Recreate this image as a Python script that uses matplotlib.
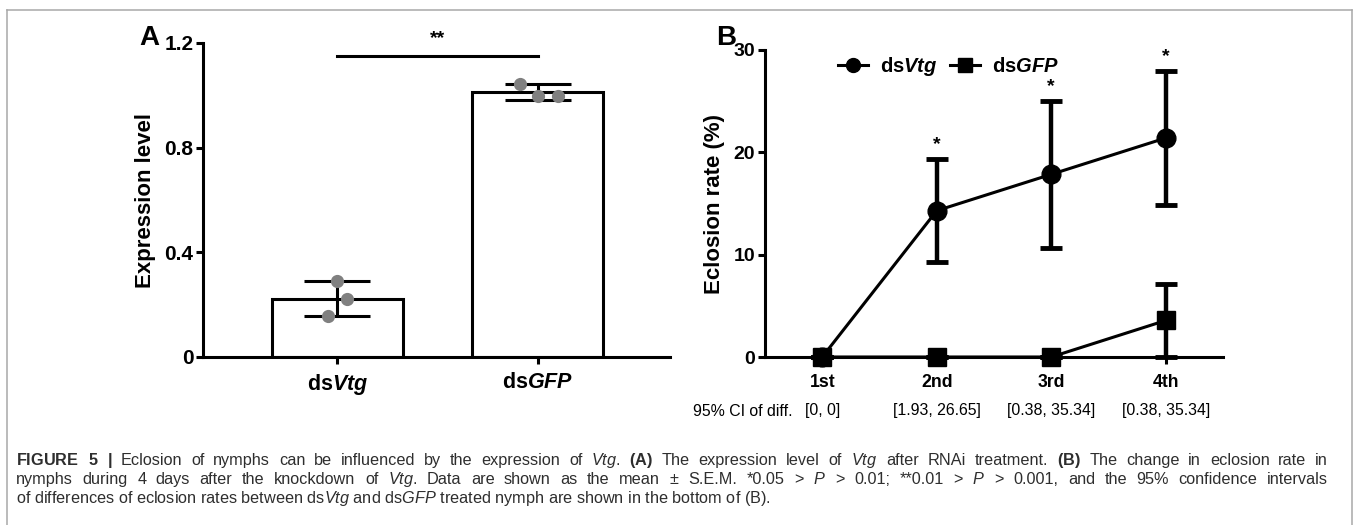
import matplotlib
matplotlib.use("Agg")
import matplotlib.pyplot as plt
from matplotlib.lines import Line2D

plt.rcParams['font.family'] = ['Liberation Sans', 'DejaVu Sans']
plt.rcParams['mathtext.fontset'] = 'custom'
plt.rcParams['mathtext.rm'] = 'Liberation Sans'
plt.rcParams['mathtext.it'] = 'Liberation Sans:italic'
plt.rcParams['mathtext.bf'] = 'Liberation Sans:bold'
plt.rcParams['mathtext.bfit'] = 'Liberation Sans:bold:italic'

# Panel A data
groups = [r"ds$\mathbfit{Vtg}$", r"ds$\mathbfit{GFP}$"]
expr_mean = [0.222, 1.012]
expr_err = [0.067, 0.030]
expr_points = [[0.290, 0.222, 0.157], [1.045, 0.996, 0.996]]
jitter = [[0.0, 0.05, -0.045], [-0.09, 0.0, 0.1]]
sig_level = 1.15

# Panel B data
days = ["1st", "2nd", "3rd", "4th"]
vtg_rate = [0.0, 14.3, 17.85, 21.4]
vtg_err = [0.0, 5.0, 7.15, 6.5]
gfp_rate = [0.0, 0.0, 0.0, 3.57]
gfp_err = [0.0, 0.0, 0.0, 3.57]
ci_labels = ["[0, 0]", "[1.93, 26.65]", "[0.38, 35.34]", "[0.38, 35.34]"]
star_days = [1, 2, 3]

fig = plt.figure(figsize=(13.56, 5.25), dpi=100)
W, H = 1356.0, 525.0

def fx(px):
    return px / W

def fy(py):
    return 1 - py / H

# ---- panel A ----
axA = fig.add_axes([fx(203), fy(357), (670 - 203) / W, (357 - 43) / H])
xa = list(range(len(groups)))
axA.bar(xa, expr_mean, width=0.655, color='white', edgecolor='black', linewidth=2.2, zorder=2)
axA.errorbar(xa, expr_mean, yerr=expr_err, fmt='none', ecolor='black',
             elinewidth=2.2, capsize=23.5, capthick=2.2, zorder=3)
for i, pts in enumerate(expr_points):
    axA.plot([i + j for j in jitter[i]], pts, 'o', color='#808080',
             markersize=9.5, markeredgewidth=0, zorder=4)
axA.plot([xa[0], xa[1]], [sig_level, sig_level], color='black', lw=2.2, clip_on=False)
axA.text(0.5, sig_level + 0.035, '**', ha='center', va='bottom', fontsize=14, fontweight='bold')
axA.set_xlim(-0.67, 1.66)
axA.set_ylim(0, 1.2)
axA.set_yticks([0, 0.4, 0.8, 1.2])
axA.set_yticklabels(['0', '0.4', '0.8', '1.2'])
axA.set_xticks(xa)
axA.set_xticklabels(groups)
axA.set_ylabel('Expression level', fontsize=16, fontweight='bold', labelpad=6)

# ---- panel B ----
axB = fig.add_axes([fx(765), fy(357), (1223 - 765) / W, (357 - 50) / H])
xb = list(range(len(days)))
axB.errorbar(xb, vtg_rate, yerr=vtg_err, fmt='-o', color='black', lw=2.2,
             markersize=13.5, elinewidth=3.2, capsize=8, capthick=3.5,
             clip_on=False, zorder=3)
axB.errorbar(xb, gfp_rate, yerr=gfp_err, fmt='-s', color='black', lw=2.2,
             markersize=13.5, elinewidth=3.2, capsize=8, capthick=3.5,
             clip_on=False, zorder=4)
for d in star_days:
    axB.text(xb[d], vtg_rate[d] + vtg_err[d] + 0.6, '*', ha='center', va='bottom',
             fontsize=14, fontweight='bold')
axB.set_xlim(-0.5, 3.5)
axB.set_ylim(0, 30)
axB.set_yticks([0, 10, 20, 30])
axB.set_xticks(xb)
axB.set_xticklabels(days)
axB.set_ylabel('Eclosion rate (%)', fontsize=16, fontweight='bold', labelpad=6)
handles = [Line2D([], [], color='black', lw=2.2, marker='o', markersize=10),
           Line2D([], [], color='black', lw=2.2, marker='s', markersize=10)]
axB.legend(handles, [r"ds$\mathbfit{Vtg}$", r"ds$\mathbfit{GFP}$"], loc='center left',
           bbox_to_anchor=(0.12, 0.945), ncol=2, frameon=False, handlelength=1.5,
           handletextpad=0.6, columnspacing=0.6, prop={'size': 14.5, 'weight': 'bold'})
for i, lab in enumerate(ci_labels):
    axB.annotate(lab, xy=(xb[i], 0), xycoords=('data', 'axes fraction'),
                 xytext=(0, -54), textcoords='offset pixels', ha='center', va='center',
                 fontsize=11.4)
axB.annotate('95% CI of diff.', xy=(xb[0], 0), xycoords=('data', 'axes fraction'),
             xytext=(-30, -54), textcoords='offset pixels', ha='right', va='center',
             fontsize=11.4)

for ax, tsize, xsize, xpad in [(axA, 15, 15.5, 6), (axB, 14, 12.7, 7)]:
    for s in ['top', 'right']:
        ax.spines[s].set_visible(False)
    for s in ['left', 'bottom']:
        ax.spines[s].set_linewidth(2.2)
    ax.tick_params(axis='both', width=2.2, length=5, pad=2)
    ax.tick_params(axis='y', labelsize=tsize)
    ax.tick_params(axis='x', labelsize=xsize, pad=xpad)
    for t in ax.get_xticklabels() + ax.get_yticklabels():
        t.set_fontweight('bold')

fig.text(fx(139), fy(45), 'A', fontsize=20, fontweight='bold', va='baseline')
fig.text(fx(716), fy(45), 'B', fontsize=20, fontweight='bold', va='baseline')

# frame
gray = '#a8a8a8'
fig.add_artist(Line2D([fx(7), fx(1352)], [fy(9.5), fy(9.5)], color=gray, lw=1.1))
fig.add_artist(Line2D([fx(7), fx(7)], [fy(9.5), 0], color=gray, lw=1.1))
fig.add_artist(Line2D([fx(1352), fx(1352)], [fy(9.5), 0], color=gray, lw=1.1))

# caption, first two lines justified
caption = [
    r"$\mathbf{FIGURE}$ $\mathbf{5}$ $\mathbf{|}$ Eclosion of nymphs can be influenced by the expression of $\it{Vtg}$. "
    r"$\mathbf{(A)}$ The expression level of $\it{Vtg}$ after RNAi treatment. $\mathbf{(B)}$ The change in eclosion rate in",
    r"nymphs during 4 days after the knockdown of $\it{Vtg}$. Data are shown as the mean ± S.E.M. *0.05 > $\it{P}$ > 0.01; "
    r"**0.01 > $\it{P}$ > 0.001, and the 95% confidence intervals",
    r"of differences of eclosion rates between ds$\it{Vtg}$ and ds$\it{GFP}$ treated nymph are shown in the bottom of (B).",
]
renderer = fig.canvas.get_renderer()
left_px, right_px = 16, 1328
for i, line in enumerate(caption):
    y = fy(465 + 19 * i)
    if i == len(caption) - 1:
        fig.text(fx(left_px), y, line, fontsize=11.7, color='#2e2e2e', va='baseline')
        continue
    words = line.split(' ')
    texts = [fig.text(0, y, w, fontsize=11.7, color='#2e2e2e', va='baseline') for w in words]
    widths = [t.get_window_extent(renderer).width for t in texts]
    gap = (right_px - left_px - sum(widths)) / (len(words) - 1)
    x = left_px
    for t, wd in zip(texts, widths):
        t.set_x(fx(x))
        x += wd + gap

fig.savefig('out.png', dpi=100)
